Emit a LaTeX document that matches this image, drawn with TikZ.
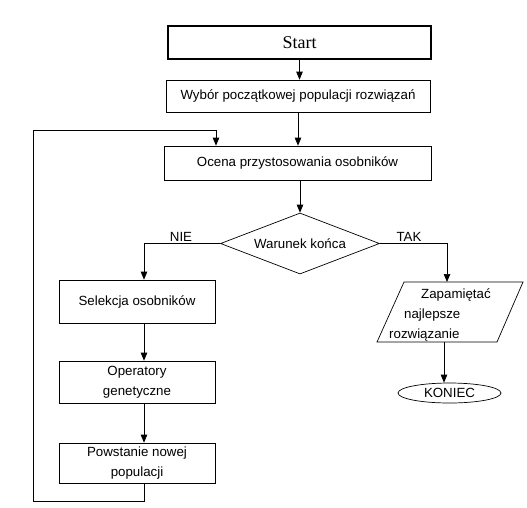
\documentclass[tikz,border=0pt]{standalone}
\usepackage{fontspec}
\setmainfont{Liberation Sans}
\newfontfamily\timesfont{Liberation Serif}
\usetikzlibrary{shapes.geometric,arrows.meta}
\begin{document}
\begin{tikzpicture}[x=1pt,y=-1pt,
  box/.style={draw, line width=0.7pt, inner sep=0pt, align=center, font=\fontsize{13.3}{20.5}\selectfont},
  arr/.style={line width=0.7pt, -{Triangle[length=8pt,width=6.5pt]}},
  edge/.style={line width=0.7pt},
  lbl/.style={font=\fontsize{13.3}{15}\selectfont, inner sep=0pt}]
\useasboundingbox (0,0) rectangle (527,507);
\node[box, line width=1.3pt, minimum width=263pt, minimum height=33pt, font=\timesfont\fontsize{18}{20}\selectfont] (start) at (299.5,42.5) {Start};
\node[box, minimum width=264pt, minimum height=32pt] (wyb) at (298,96) {Wybór początkowej populacji rozwiązań};
\node[box, minimum width=267pt, minimum height=34pt] (ocena) at (297.5,163) {Ocena przystosowania osobników};
\node[box, shape=diamond, aspect=2.6, minimum width=159pt, minimum height=61pt] (war) at (300,243.5) {Warunek końca};
\node[box, minimum width=156pt, minimum height=43pt] (sel) at (137,301.5) {Selekcja osobników};
\node[box, minimum width=156pt, minimum height=42pt] (op) at (137,382) {Operatory\\genetyczne};
\node[box, minimum width=156pt, minimum height=40pt] (pow) at (137,463) {Powstanie nowej\\populacji};
% parallelogram
\coordinate (p1) at (377,342);
\coordinate (p2) at (404,282);
\coordinate (p3) at (523,282);
\coordinate (p4) at (497,342);
\draw[edge] (p1) -- (p2) -- (p3) -- (p4) -- cycle;
\node[lbl, anchor=base west] (zap1) at (421,298) {Zapamiętać};
\node[lbl, anchor=base west] (zap2) at (404,318) {najlepsze};
\node[lbl, anchor=base west] (zap3) at (389,338) {rozwiązanie};
\node[box, shape=ellipse, minimum width=103pt, minimum height=20pt] (kon) at (449.5,393) {KONIEC};
% labels
\node[lbl] (nielbl) at (181,237) {NIE};
\node[lbl] (taklbl) at (409,237) {TAK};
% connectors
\draw[arr] (start.south) -- (wyb.north -| start.south);
\draw[arr] (wyb.south) -- (ocena.north -| wyb.south);
\draw[arr] (war.north |- ocena.south) -- (war.north);
\coordinate (nie) at (144,243.5);
\draw[arr] (war.west) -- (nie) -- (nie |- sel.north);
\draw[arr] (sel.south -| nie) -- (op.north -| nie);
\draw[arr] (op.south -| nie) -- (pow.north -| nie);
\coordinate (lb) at (33,501);
\coordinate (lt) at (33,130);
\coordinate (lx) at (216,130);
\draw[arr] (pow.south -| nie) -- (nie |- lb) -- (lb) -- (lt) -- (lx) -- (lx |- ocena.north);
\coordinate (tak) at (447,243.5);
\draw[arr] (war.east) -- (tak) -- (tak |- p2);
\coordinate (pb) at (444,342);
\draw[arr] (pb) -- (pb |- kon.north);
\end{tikzpicture}
\end{document}
